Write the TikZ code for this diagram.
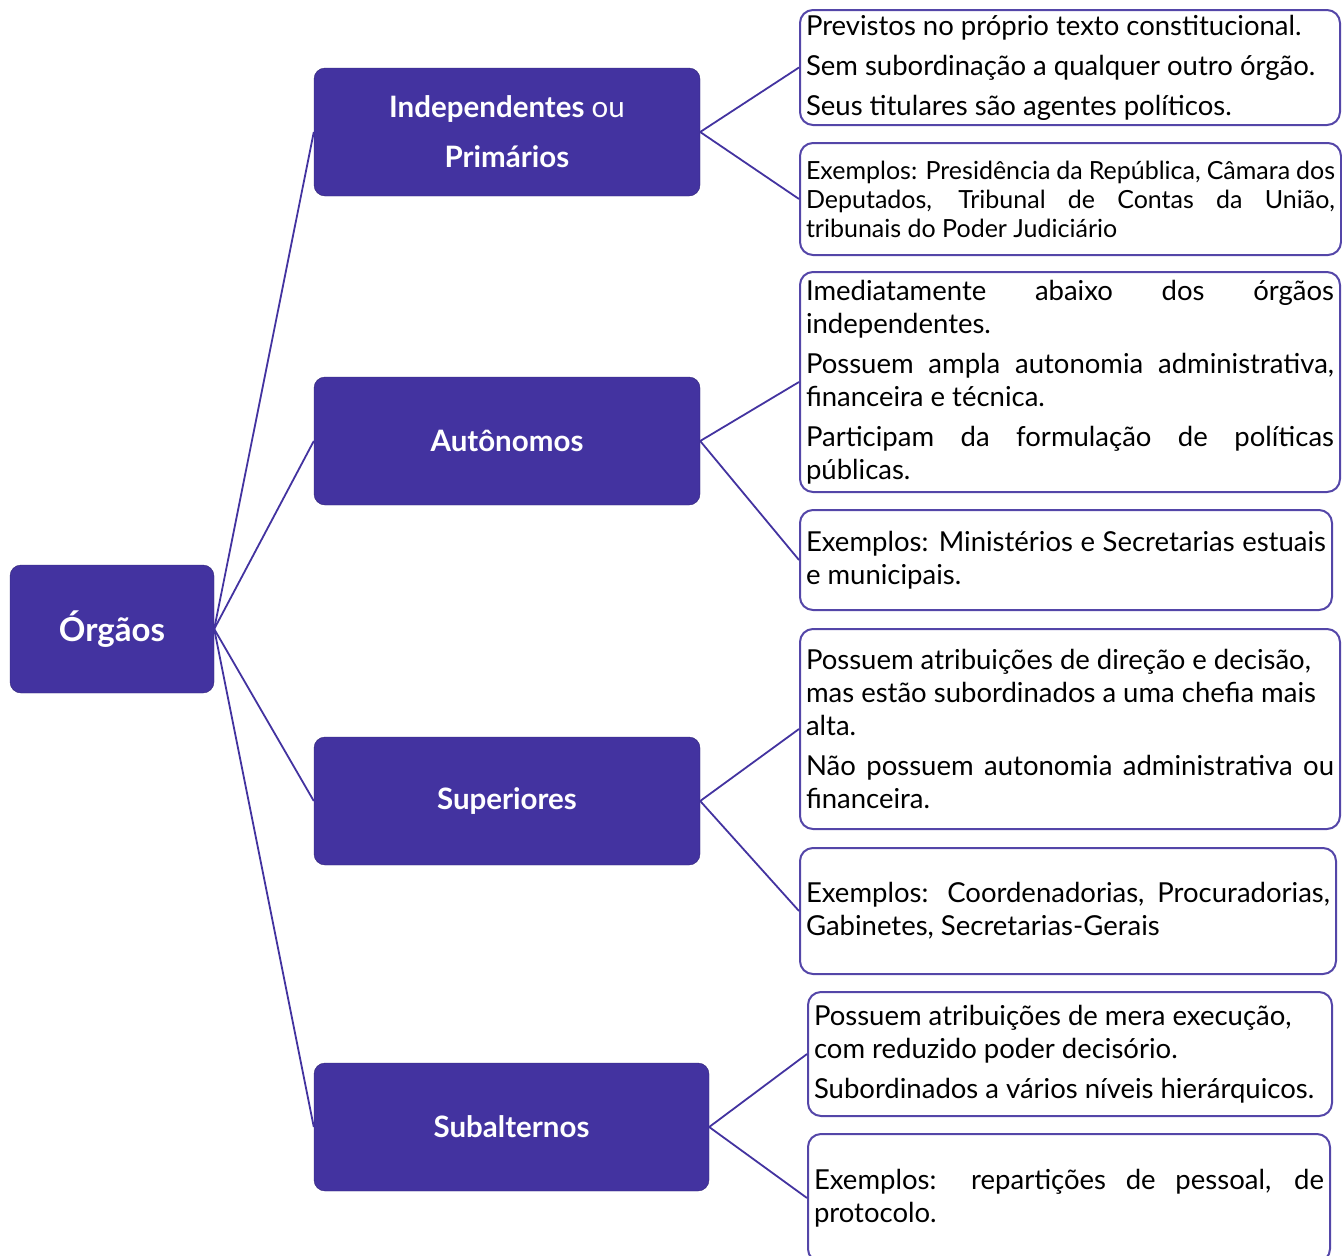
\documentclass[tikz,border=0pt]{standalone}
\usepackage{fontspec}
\setmainfont{Lato}
\definecolor{orgfill}{RGB}{67,51,160}
\definecolor{orgline}{RGB}{84,70,168}
\hyphenpenalty=10000
\begin{document}
\begin{tikzpicture}[x=1pt,y=-1pt,
  orgbox/.style={draw=orgfill!75!black,fill=orgfill,rounded corners=11pt,minimum height=128pt,text=white,align=center,font=\fontsize{29.5}{50}\selectfont\bfseries},
  infobox/.style={draw=orgline,line width=2pt,rounded corners=13pt,align=justify,inner xsep=6pt,inner ysep=0pt,font=\fontsize{27.5}{33}\selectfont},
  link/.style={draw=orgfill,line width=1.8pt}]
\useasboundingbox (0,0) rectangle (1342,1256);
% main level
\node[orgbox,minimum width=204pt,font=\fontsize{33}{38}\selectfont\bfseries] (org) at (112,629) {Órgãos};
\node[orgbox,minimum width=386pt] (ind) at (507,132) {Independentes {\mdseries ou}\\Primários};
\node[orgbox,minimum width=386pt] (aut) at (507,441) {Autônomos};
\node[orgbox,minimum width=386pt] (sup) at (507,801) {Superiores};
\node[orgbox,minimum width=395pt] (sub) at (511.5,1127) {Subalternos};
% detail boxes
\node[infobox,minimum width=540pt,minimum height=115pt,text width=528pt] (ind1) at (1070,67.5) {Previstos no próprio texto constitucional.\par\vspace{7pt}Sem subordinação a qualquer outro órgão.\par\vspace{7pt}Seus titulares são agentes políticos.};
\node[infobox,minimum width=541pt,minimum height=112pt,text width=529pt,font=\fontsize{25}{29}\selectfont] (ind2) at (1070.5,199) {Exemplos: Presidência da República, Câmara dos\linebreak Deputados, Tribunal de Contas da União,\linebreak tribunais do Poder Judiciário};
\node[infobox,minimum width=540pt,minimum height=220pt,text width=528pt] (aut1) at (1070,382) {Imediatamente abaixo dos órgãos\linebreak independentes.\par\vspace{7pt}Possuem ampla autonomia administrativa,\linebreak financeira e técnica.\par\vspace{7pt}Participam da formulação de políticas\linebreak públicas.};
\node[infobox,minimum width=532pt,minimum height=100pt,text width=520pt] (aut2) at (1066,560) {Exemplos: Ministérios e Secretarias estuais\linebreak e municipais.};
\node[infobox,minimum width=540pt,minimum height=200pt,text width=528pt] (sup1) at (1070,729) {Possuem atribuições de direção e decisão,\\mas estão subordinados a uma chefia mais\\alta.\par\vspace{7pt}Não possuem autonomia administrativa ou\linebreak financeira.};
\node[infobox,minimum width=536pt,minimum height=126pt,text width=524pt] (sup2) at (1068,911) {Exemplos: Coordenadorias, Procuradorias,\linebreak Gabinetes, Secretarias-Gerais};
\node[infobox,minimum width=524pt,minimum height=124pt,text width=512pt] (sub1) at (1070,1054) {Possuem atribuições de mera execução,\\com reduzido poder decisório.\par\vspace{7pt}Subordinados a vários níveis hierárquicos.};
\node[infobox,minimum width=522pt,minimum height=128pt,text width=510pt] (sub2) at (1069,1198) {Exemplos: repartições de pessoal, de\linebreak protocolo.};
% connectors
\foreach \n in {ind,aut,sup,sub}
  \draw[link] (org.east) -- (\n.west);
\draw[link] (ind.east) -- (ind1.west);
\draw[link] (ind.east) -- (ind2.west);
\draw[link] (aut.east) -- (aut1.west);
\draw[link] (aut.east) -- (aut2.west);
\draw[link] (sup.east) -- (sup1.west);
\draw[link] (sup.east) -- (sup2.west);
\draw[link] (sub.east) -- (sub1.west);
\draw[link] (sub.east) -- (sub2.west);
\end{tikzpicture}
\end{document}
